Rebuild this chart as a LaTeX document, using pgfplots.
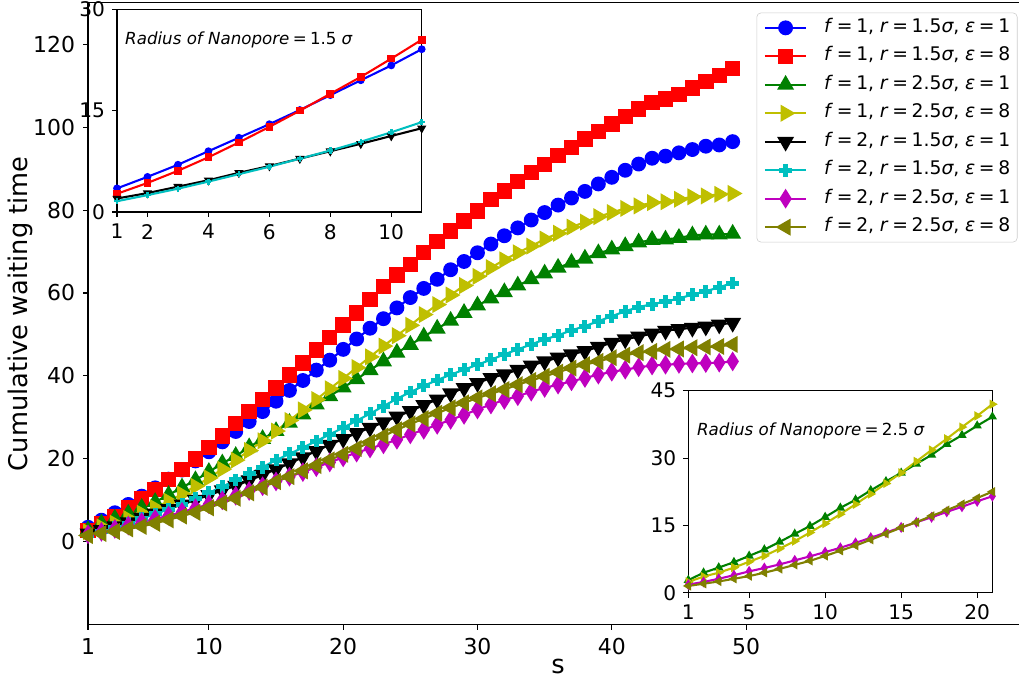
\documentclass[border=0pt]{standalone}
\usepackage{fontspec}
\setmainfont{DejaVu Sans}
\usepackage{pgfplots}
\usepackage{pgfplotstable}
\pgfplotsset{compat=1.18}

\definecolor{mb}{rgb}{0,0,1}
\definecolor{mr}{rgb}{1,0,0}
\definecolor{mg}{rgb}{0,0.5,0}
\definecolor{my}{rgb}{0.75,0.75,0}
\definecolor{mk}{rgb}{0,0,0}
\definecolor{mc}{rgb}{0,0.75,0.75}
\definecolor{mm}{rgb}{0.75,0,0.75}
\definecolor{mo}{rgb}{0.5,0.5,0}

\pgfplotstableread{
x s1 s2 s3 s4 s5 s6 s7 s8
1 3.5 2.7 2.8 2.4 2.0 1.6 1.8 1.5
2 5.2 4.3 4.45 3.6 2.8 2.5 2.4 2.0
3 7.0 6.1 5.6 4.45 3.75 3.45 3.1 2.5
4 9.0 8.1 6.8 5.6 4.7 4.5 3.9 3.1
5 11.0 10.3 8.2 6.9 5.8 5.6 4.75 3.7
6 13.0 12.6 9.6 8.2 6.8 6.7 5.5 4.45
7 15.1 15.0 11.3 9.8 7.9 7.9 6.3 5.3
8 17.3 17.5 13.1 11.5 9.0 9.1 7.2 6.2
9 19.5 20.0 14.85 13.4 10.1 10.4 8.1 7.1
10 21.7 22.7 16.85 15.4 11.25 11.8 9.05 8.2
11 24.1 25.5 18.9 17.5 12.4 13.3 10.0 9.35
12 26.6 28.5 20.7 19.7 13.5 14.9 11.1 10.5
13 29.0 31.4 22.8 22.0 14.8 16.4 12.25 11.8
14 31.4 34.3 24.8 24.35 16.1 18.0 13.4 13.15
15 33.9 37.1 26.7 26.7 17.5 19.7 14.55 14.5
16 36.5 40.2 28.7 29.25 18.9 21.2 15.7 15.7
17 38.9 43.1 30.7 31.8 20.4 22.7 16.8 17.1
18 41.4 46.3 33.1 34.3 21.9 24.3 18.0 18.4
19 43.8 49.2 35.1 36.9 23.4 25.9 19.15 19.75
20 46.4 52.3 37.2 39.4 24.8 27.5 20.35 21.1
21 48.9 55.2 39.2 42.0 26.2 29.2 21.5 22.5
22 51.5 58.4 41.4 44.6 27.5 30.9 22.5 24.0
23 53.8 61.5 43.5 47.2 28.8 32.7 23.5 25.5
24 56.4 64.3 45.6 49.7 30.2 34.5 24.6 27.0
25 58.9 66.9 47.5 52.2 31.5 36.1 25.9 28.4
26 61.1 69.7 49.5 54.8 33.0 37.6 27.0 29.7
27 63.3 72.4 51.4 57.2 34.3 39.0 28.2 31.0
28 65.6 75.0 53.3 59.5 35.8 40.3 29.4 32.3
29 67.6 77.4 55.2 61.8 37.1 41.5 30.6 33.5
30 69.7 79.8 57.0 64.0 38.3 42.7 31.9 34.7
31 71.8 82.5 58.7 66.1 39.5 43.9 33.1 35.7
32 73.8 84.6 60.2 68.0 40.4 45.2 34.2 36.7
33 75.7 86.9 61.8 69.7 41.5 46.4 35.1 37.9
34 77.6 89.1 63.3 71.3 42.5 47.6 36.2 38.9
35 79.4 91.0 64.7 73.0 43.5 48.8 37.1 39.9
36 81.2 93.1 66.1 74.4 44.4 49.8 37.9 40.9
37 82.9 95.1 67.3 75.9 45.2 51.0 38.7 41.9
38 84.5 97.1 68.3 77.1 46.0 52.0 39.5 42.7
39 86.3 98.9 69.6 78.4 47.0 53.2 40.3 43.5
40 87.9 100.8 70.5 79.4 48.0 54.4 41.0 44.4
41 89.6 102.5 71.3 80.4 48.8 55.6 41.5 45.0
42 91.1 104.4 72.2 81.0 49.5 56.6 42.1 45.6
43 92.5 106.0 72.8 81.8 50.2 57.3 42.5 45.9
44 93.0 106.8 72.9 82.0 50.9 57.9 42.7 46.4
45 93.8 107.9 73.3 82.6 51.3 58.7 42.9 46.5
46 94.6 109.4 73.9 83.2 51.6 59.6 43.0 46.8
47 95.4 111.0 74.1 83.4 51.9 60.4 43.1 47.0
48 95.7 112.5 74.1 83.8 52.4 61.4 43.2 47.1
49 96.5 114.2 74.3 84.0 52.8 62.4 43.5 47.6
}\data

\newcommand{\eqs}{\hspace{.2em}=\hspace{.2em}}
\newcommand{\leg}[3]{\textit{f}\eqs#1,\hspace{.3em}\textit{r}\eqs#2\textit{σ},\hspace{.3em}\textit{ε}\eqs#3}

\pgfplotsset{
  mystyle/.style={
    scale only axis,
    tick align=outside,
    tick pos=left,
    major tick length=3.5pt,
    axis line style={line width=0.8pt, black},
    every tick/.style={black, line width=0.8pt},
    /pgf/number format/assume math mode=true,
  },
}

\begin{document}
\begin{tikzpicture}
\begin{axis}[mystyle,
  at={(63.36pt,43.42pt)}, anchor=south west,
  width=676.9pt, height=447.8pt,
  xmin=1, xmax=71, ymin=-20, ymax=130,
  xtick={1,10,20,30,40,50}, ytick={0,20,...,120},
  tick label style={font=\fontsize{15.8}{18}\selectfont},
  xticklabel style={anchor=north, inner sep=0pt, yshift=-6pt},
  yticklabel style={anchor=east, inner sep=0pt, xshift=-5.6pt},
  xlabel={s}, ylabel={Cumulative waiting time},
  label style={font=\fontsize{18.5}{22}\selectfont},
  xlabel style={at={(axis description cs:0.5,-0.0787)}, anchor=base, inner sep=0pt},
  ylabel style={at={(axis description cs:-0.0715,0.5)}, anchor=center, inner sep=0pt},
  legend cell align=left,
  legend image code/.code={\draw[mark repeat=2,mark phase=2] plot coordinates {(0pt,0pt) (15pt,0pt) (30pt,0pt)};},
  legend style={at={(axis description cs:0.9887,0.9841)}, anchor=north east,
    draw=black!20, rounded corners=3pt, fill=white,
    font=\fontsize{13.5}{16}\selectfont,
    inner xsep=5pt, inner ysep=4pt, row sep=7pt,
    nodes={inner sep=0pt, text height=10pt, text depth=3.5pt},
    /tikz/every odd column/.append style={column sep=12pt}},
]
\addplot[mb, line width=1.5pt, mark=*, mark size=4.6pt, mark options={solid}] table[x=x,y=s1]{\data};
\addlegendentry{\leg{1}{1.5}{1}}
\addplot[mr, line width=1.5pt, mark=square*, mark size=4.8pt, mark options={solid}] table[x=x,y=s2]{\data};
\addlegendentry{\leg{1}{1.5}{8}}
\addplot[mg, line width=1.5pt, mark=triangle*, mark size=5.6pt, mark options={solid}] table[x=x,y=s3]{\data};
\addlegendentry{\leg{1}{2.5}{1}}
\addplot[my, line width=1.5pt, mark=triangle*, mark size=5.6pt, mark options={solid, rotate=-90}] table[x=x,y=s4]{\data};
\addlegendentry{\leg{1}{2.5}{8}}
\addplot[mk, line width=1.5pt, mark=triangle*, mark size=5.6pt, mark options={solid, rotate=180}] table[x=x,y=s5]{\data};
\addlegendentry{\leg{2}{1.5}{1}}
\addplot[mc, line width=1.5pt, mark=+, mark size=4.6pt, mark options={solid, line width=3.6pt}] table[x=x,y=s6]{\data};
\addlegendentry{\leg{2}{1.5}{8}}
\addplot[mm, line width=1.5pt, mark=diamond*, mark size=5.75pt, mark options={solid, xscale=0.84}] table[x=x,y=s7]{\data};
\addlegendentry{\leg{2}{2.5}{1}}
\addplot[mo, line width=1.5pt, mark=triangle*, mark size=5.6pt, mark options={solid, rotate=90}] table[x=x,y=s8]{\data};
\addlegendentry{\leg{2}{2.5}{8}}
\end{axis}

\begin{axis}[mystyle,
  at={(84.24pt,340.56pt)}, anchor=south west,
  width=219.4pt, height=145.9pt,
  xmin=1, xmax=11, ymin=0, ymax=30,
  xtick={1,2,4,6,8,10}, ytick={0,15,30},
  axis background/.style={fill=white},
  tick label style={font=\fontsize{14.5}{16}\selectfont},
  xticklabel style={anchor=north, inner sep=0pt, yshift=-5pt},
  yticklabel style={anchor=east, inner sep=0pt, xshift=-5pt},
]
\addplot[mb, line width=1.5pt, mark=*, mark size=2pt, restrict x to domain=1:11] table[x=x,y=s1]{\data};
\addplot[mr, line width=1.5pt, mark=square*, mark size=2pt, restrict x to domain=1:11] table[x=x,y=s2]{\data};
\addplot[mk, line width=1.5pt, mark=triangle*, mark size=2.4pt, mark options={rotate=180}, restrict x to domain=1:11] table[x=x,y=s5]{\data};
\addplot[mc, line width=1.5pt, mark=+, mark size=2.2pt, mark options={line width=1.8pt}, restrict x to domain=1:11] table[x=x,y=s6]{\data};
\node[anchor=base west, inner sep=0pt, font=\fontsize{12}{14}\selectfont] at (axis description cs:0.026,0.827) {\textit{Radius of Nanopore}\eqs1.5\hspace{.3em}\textit{σ}};
\end{axis}

\begin{axis}[mystyle,
  at={(495.6pt,66.46pt)}, anchor=south west,
  width=218.9pt, height=145.4pt,
  xmin=1, xmax=21, ymin=0, ymax=45,
  xtick={1,5,10,15,20}, ytick={0,15,30,45},
  axis background/.style={fill=white},
  tick label style={font=\fontsize{14.5}{16}\selectfont},
  xticklabel style={anchor=north, inner sep=0pt, yshift=-5pt},
  yticklabel style={anchor=east, inner sep=0pt, xshift=-5pt},
]
\addplot[mg, line width=1.5pt, mark=triangle*, mark size=2.4pt, restrict x to domain=1:21] table[x=x,y=s3]{\data};
\addplot[my, line width=1.5pt, mark=triangle*, mark size=2.4pt, mark options={rotate=-90}, restrict x to domain=1:21] table[x=x,y=s4]{\data};
\addplot[mm, line width=1.5pt, mark=diamond*, mark size=2.6pt, mark options={xscale=0.84}, restrict x to domain=1:21] table[x=x,y=s7]{\data};
\addplot[mo, line width=1.5pt, mark=triangle*, mark size=2.4pt, mark options={rotate=90}, restrict x to domain=1:21] table[x=x,y=s8]{\data};
\node[anchor=base west, inner sep=0pt, font=\fontsize{12}{14}\selectfont] at (axis description cs:0.028,0.776) {\textit{Radius of Nanopore}\eqs2.5\hspace{.3em}\textit{σ}};
\end{axis}

\pgfresetboundingbox
\path[use as bounding box] (0pt,0pt) rectangle (733.68pt,493.2pt);
\end{tikzpicture}
\end{document}
